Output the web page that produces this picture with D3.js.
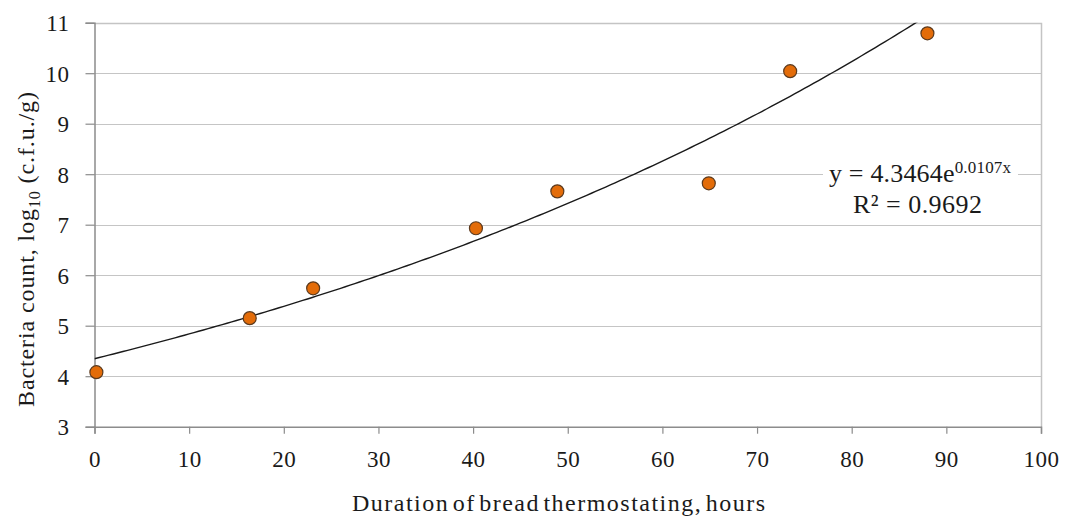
<!DOCTYPE html>
<html>
<head>
<meta charset="utf-8">
<script src="https://cdn.jsdelivr.net/npm/d3@7"></script>
<style>
  body { margin: 0; background: #fff; }
  svg text { font-family: "Liberation Serif", "Times New Roman", serif; fill: #1a1a1a; }
</style>
</head>
<body>
<div id="chart"></div>
<script>
// data
const hours = [0.2, 16.4, 23.1, 40.3, 48.9, 64.9, 73.5, 88.0];
const logCounts = [4.08, 5.15, 5.74, 6.93, 7.66, 7.82, 10.04, 10.79];
const xTicks = [0, 10, 20, 30, 40, 50, 60, 70, 80, 90, 100];
const yTicks = [3, 4, 5, 6, 7, 8, 9, 10, 11];
// exponential trendline shown on the chart
const TREND_A = 4.3464;
const TREND_B = 0.0107;

const WIDTH = 1065, HEIGHT = 518;
const LEFT = 94.5, RIGHT = 1041, TOP = 22.7, BOTTOM = 426.7;

const svg = d3.select('#chart').append('svg')
    .attr('width', WIDTH)
    .attr('height', HEIGHT);

const x = d3.scaleLinear().domain([0, 100]).range([LEFT, RIGHT]);
const y = d3.scaleLinear().domain([3, 11]).range([BOTTOM, TOP]);

// dotted gridlines
svg.append('g')
    .selectAll('line')
    .data(yTicks.filter(v => v > 3 && v < 11))
    .enter().append('line')
    .attr('x1', LEFT).attr('x2', RIGHT)
    .attr('y1', d => Math.round(y(d)) + 0.5).attr('y2', d => Math.round(y(d)) + 0.5)
    .attr('stroke', '#8a8a8a')
    .attr('stroke-width', 1)
    .attr('stroke-dasharray', '1,1');

// light plot-area border (top and right)
svg.append('path')
    .attr('d', `M${LEFT},${Math.round(TOP) + 0.5}H${Math.round(RIGHT) + 0.5}V${BOTTOM}`)
    .attr('fill', 'none')
    .attr('stroke', '#c4c4c4')
    .attr('stroke-width', 1.5);

// axes
const xAxis = d3.axisBottom(x).tickValues(xTicks).tickSizeOuter(0).tickSize(7).tickPadding(10);
const yAxis = d3.axisLeft(y).tickValues(yTicks).tickSizeOuter(0).tickSize(9).tickPadding(16);

const gx = svg.append('g')
    .attr('transform', 'translate(0,' + BOTTOM + ')')
    .call(xAxis);
const gy = svg.append('g')
    .attr('transform', 'translate(' + LEFT + ',0)')
    .call(yAxis);

[gx, gy].forEach(g => {
    g.select('.domain').attr('stroke', '#8c8c8c').attr('stroke-width', 1.5);
    g.selectAll('.tick line').attr('stroke', '#8c8c8c').attr('stroke-width', 1.2);
    g.selectAll('.tick text')
        .style('font-family', '"Liberation Serif", serif')
        .style('font-size', '23px')
        .style('letter-spacing', '0.5px')
        .attr('fill', '#1a1a1a');
});
gx.selectAll('.tick text').attr('y', 40).attr('dy', 0);
gy.selectAll('.tick text').attr('dy', '0.34em');

// trendline, clipped to plot area
svg.append('clipPath').attr('id', 'plotClip')
    .append('rect')
    .attr('x', LEFT).attr('y', TOP)
    .attr('width', RIGHT - LEFT).attr('height', BOTTOM - TOP);

const trendX = d3.range(0, 100.5, 0.5);
const line = d3.line()
    .x(d => x(d))
    .y(d => y(TREND_A * Math.exp(TREND_B * d)));

svg.append('path')
    .datum(trendX)
    .attr('clip-path', 'url(#plotClip)')
    .attr('d', line)
    .attr('fill', 'none')
    .attr('stroke', '#1a1a1a')
    .attr('stroke-width', 1.4);

// data points
svg.append('g')
    .selectAll('circle')
    .data(hours.map((h, i) => [h, logCounts[i]]))
    .enter().append('circle')
    .attr('cx', d => x(d[0]))
    .attr('cy', d => y(d[1]))
    .attr('r', 6.5)
    .attr('fill', '#e36c09')
    .attr('stroke', '#5b3a1e')
    .attr('stroke-width', 1.2);

// equation label
const eq = svg.append('g');
eq.append('rect')
    .attr('x', 823).attr('y', 158)
    .attr('width', 195).attr('height', 62)
    .attr('fill', '#fff');
const eqText = eq.append('text')
    .attr('x', 829).attr('y', 182)
    .attr('textLength', 182)
    .attr('lengthAdjust', 'spacing')
    .style('font-size', '26px');
eqText.append('tspan').text('y = 4.3464e');
eqText.append('tspan').attr('dy', -9).style('font-size', '17px').text('0.0107x');
eq.append('text')
    .attr('x', 853).attr('y', 213)
    .attr('textLength', 129)
    .attr('lengthAdjust', 'spacing')
    .style('font-size', '26px')
    .text('R² = 0.9692');

// axis titles
svg.append('text')
    .attr('x', 352)
    .attr('y', 511)
    .attr('textLength', 413)
    .attr('lengthAdjust', 'spacing')
    .style('font-size', '24px')
    .style('word-spacing', '-4px')
    .text('Duration of bread thermostating, hours');

const yTitle = svg.append('text')
    .attr('transform', 'translate(34,407) rotate(-90)')
    .attr('textLength', 315)
    .attr('lengthAdjust', 'spacing')
    .style('font-size', '24px');
yTitle.append('tspan').text('Bacteria count, log');
yTitle.append('tspan').attr('dy', 6).style('font-size', '16px').text('10');
yTitle.append('tspan').attr('dy', -6).text(' (c.f.u./g)');
</script>
</body>
</html>
